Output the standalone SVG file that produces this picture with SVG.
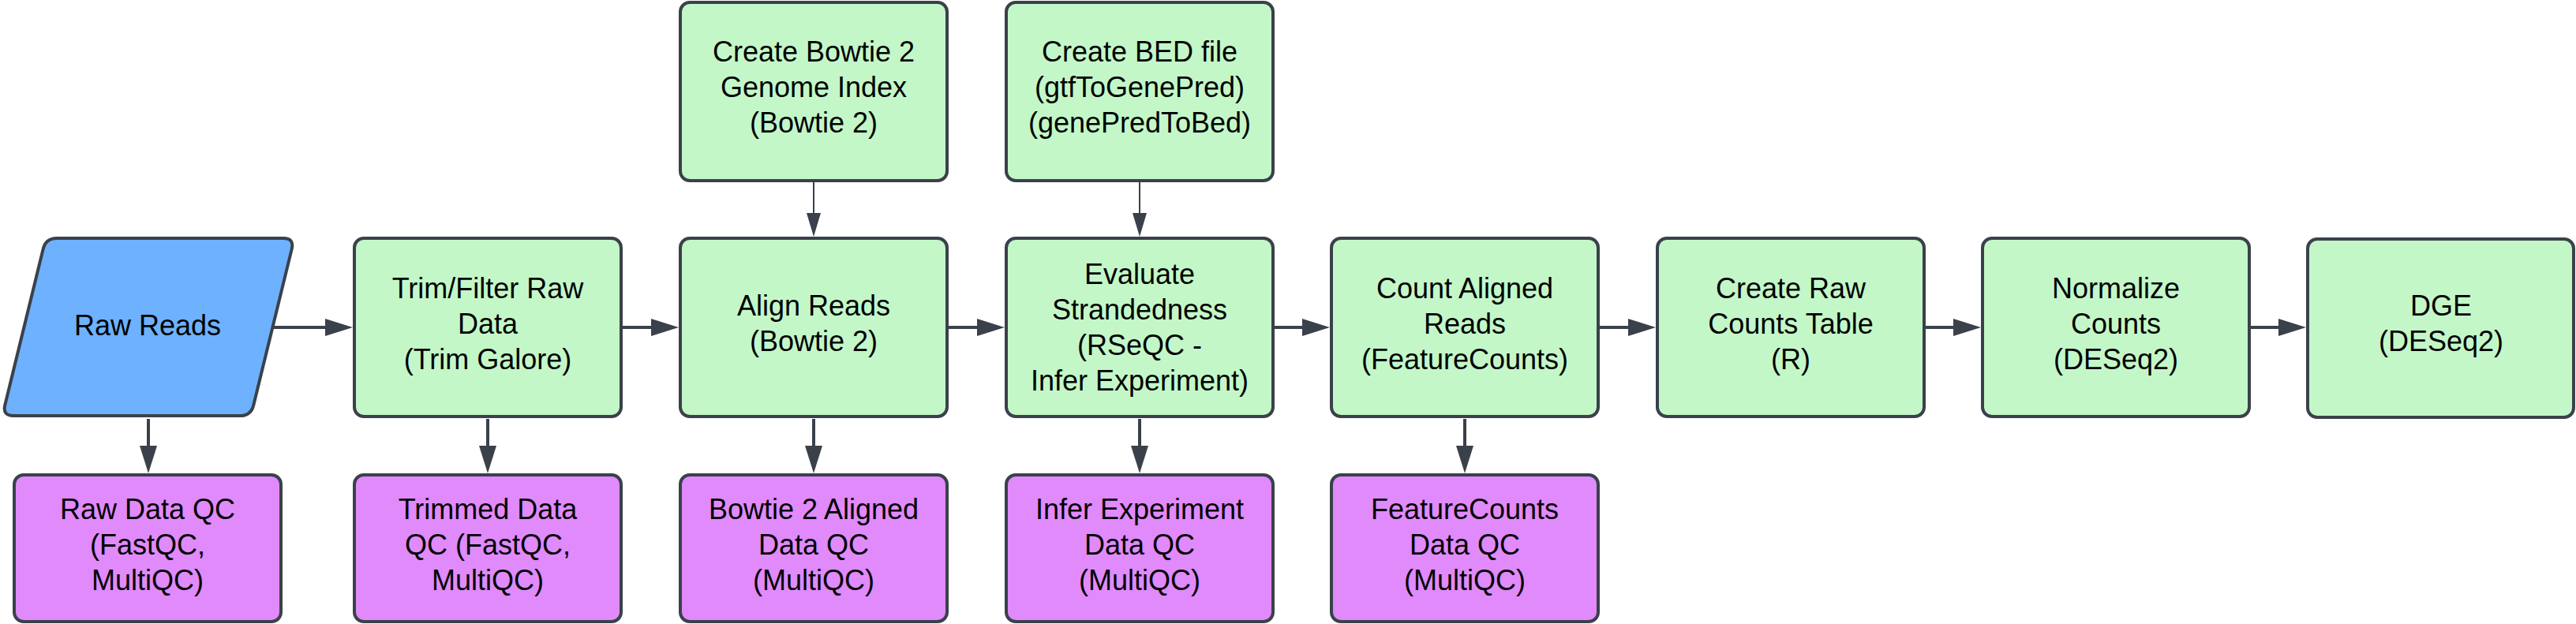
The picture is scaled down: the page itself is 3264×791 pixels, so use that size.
<svg xmlns="http://www.w3.org/2000/svg" width="3264" height="791" viewBox="0 0 3264 791">
<style>
.box{stroke:#3a414a;stroke-width:4}
.g{fill:#c3f7c8}
.p{fill:#e08afc}
.b{fill:#6db1ff}
.t{font-family:"Liberation Sans",Arial,sans-serif;font-size:36px;fill:#000;text-anchor:middle}
.c{stroke:#3a414a;stroke-width:4;fill:none}
.ct{stroke:#3a414a;stroke-width:2;fill:none}
</style>
<defs>
<marker id="ah" viewBox="0 0 35 22" refX="5" refY="11" markerWidth="35" markerHeight="22" markerUnits="userSpaceOnUse" orient="auto">
<path d="M0,0 L35,11 L0,22 Z" fill="#3a414a"/>
</marker>
<marker id="ahs" viewBox="0 0 30 18" refX="4" refY="9" markerWidth="30" markerHeight="18" markerUnits="userSpaceOnUse" orient="auto">
<path d="M0,0 L30,9 L0,18 Z" fill="#3a414a"/>
</marker>
</defs>
<rect width="3264" height="791" fill="#ffffff"/>
<g id="connectors">
<line class="c" x1="346" y1="415" x2="417" y2="415" marker-end="url(#ah)"/>
<line class="c" x1="789" y1="415" x2="830" y2="415" marker-end="url(#ah)"/>
<line class="c" x1="1202" y1="415" x2="1243" y2="415" marker-end="url(#ah)"/>
<line class="c" x1="1615" y1="415" x2="1655" y2="415" marker-end="url(#ah)"/>
<line class="c" x1="2027" y1="415" x2="2068" y2="415" marker-end="url(#ah)"/>
<line class="c" x1="2440" y1="415" x2="2480" y2="415" marker-end="url(#ah)"/>
<line class="c" x1="2852" y1="415" x2="2892" y2="415" marker-end="url(#ah)"/>
<line class="c" x1="188" y1="531" x2="188" y2="570" marker-end="url(#ah)"/>
<line class="c" x1="618" y1="531" x2="618" y2="570" marker-end="url(#ah)"/>
<line class="c" x1="1031" y1="531" x2="1031" y2="570" marker-end="url(#ah)"/>
<line class="c" x1="1444" y1="531" x2="1444" y2="570" marker-end="url(#ah)"/>
<line class="c" x1="1856" y1="531" x2="1856" y2="570" marker-end="url(#ah)"/>
<line class="ct" x1="1031" y1="231" x2="1031" y2="274" marker-end="url(#ahs)"/>
<line class="ct" x1="1444" y1="231" x2="1444" y2="274" marker-end="url(#ahs)"/>
</g>
<g id="raw-reads">
<path class="box b" d="M72,302 L359,302 Q373,302 369.7,315.6 L321.3,513.4 Q318,527 304,527 L17,527 Q3,527 6.3,513.4 L54.7,315.6 Q58,302 72,302 Z"/>
<text class="t" x="187" y="425">Raw Reads</text>
</g>
<g id="trim">
<rect class="box g" x="449" y="302" width="338" height="226" rx="12"/>
<text class="t" x="618" y="378">Trim/Filter Raw</text>
<text class="t" x="618" y="423">Data</text>
<text class="t" x="618" y="468">(Trim Galore)</text>
</g>
<g id="align">
<rect class="box g" x="862" y="302" width="338" height="226" rx="12"/>
<text class="t" x="1031" y="400">Align Reads</text>
<text class="t" x="1031" y="445">(Bowtie 2)</text>
</g>
<g id="strandedness">
<rect class="box g" x="1275" y="302" width="338" height="226" rx="12"/>
<text class="t" x="1444" y="360">Evaluate</text>
<text class="t" x="1444" y="405">Strandedness</text>
<text class="t" x="1444" y="450">(RSeQC -</text>
<text class="t" x="1444" y="495">Infer Experiment)</text>
</g>
<g id="count">
<rect class="box g" x="1687" y="302" width="338" height="226" rx="12"/>
<text class="t" x="1856" y="378">Count Aligned</text>
<text class="t" x="1856" y="423">Reads</text>
<text class="t" x="1856" y="468">(FeatureCounts)</text>
</g>
<g id="raw-counts">
<rect class="box g" x="2100" y="302" width="338" height="226" rx="12"/>
<text class="t" x="2269" y="378">Create Raw</text>
<text class="t" x="2269" y="423">Counts Table</text>
<text class="t" x="2269" y="468">(R)</text>
</g>
<g id="normalize">
<rect class="box g" x="2512" y="302" width="338" height="226" rx="12"/>
<text class="t" x="2681" y="378">Normalize</text>
<text class="t" x="2681" y="423">Counts</text>
<text class="t" x="2681" y="468">(DESeq2)</text>
</g>
<g id="dge">
<rect class="box g" x="2924" y="303" width="337" height="226" rx="12"/>
<text class="t" x="3093" y="400">DGE</text>
<text class="t" x="3093" y="445">(DESeq2)</text>
</g>
<g id="bowtie-index">
<rect class="box g" x="862" y="3" width="338" height="226" rx="12"/>
<text class="t" x="1031" y="78">Create Bowtie 2</text>
<text class="t" x="1031" y="123">Genome Index</text>
<text class="t" x="1031" y="168">(Bowtie 2)</text>
</g>
<g id="bed-file">
<rect class="box g" x="1275" y="3" width="338" height="226" rx="12"/>
<text class="t" x="1444" y="78">Create BED file</text>
<text class="t" x="1444" y="123">(gtfToGenePred)</text>
<text class="t" x="1444" y="168">(genePredToBed)</text>
</g>
<g id="raw-qc">
<rect class="box p" x="18" y="602" width="338" height="186" rx="12"/>
<text class="t" x="187" y="658">Raw Data QC</text>
<text class="t" x="187" y="703">(FastQC,</text>
<text class="t" x="187" y="748">MultiQC)</text>
</g>
<g id="trimmed-qc">
<rect class="box p" x="449" y="602" width="338" height="186" rx="12"/>
<text class="t" x="618" y="658">Trimmed Data</text>
<text class="t" x="618" y="703">QC (FastQC,</text>
<text class="t" x="618" y="748">MultiQC)</text>
</g>
<g id="aligned-qc">
<rect class="box p" x="862" y="602" width="338" height="186" rx="12"/>
<text class="t" x="1031" y="658">Bowtie 2 Aligned</text>
<text class="t" x="1031" y="703">Data QC</text>
<text class="t" x="1031" y="748">(MultiQC)</text>
</g>
<g id="infer-qc">
<rect class="box p" x="1275" y="602" width="338" height="186" rx="12"/>
<text class="t" x="1444" y="658">Infer Experiment</text>
<text class="t" x="1444" y="703">Data QC</text>
<text class="t" x="1444" y="748">(MultiQC)</text>
</g>
<g id="featurecounts-qc">
<rect class="box p" x="1687" y="602" width="338" height="186" rx="12"/>
<text class="t" x="1856" y="658">FeatureCounts</text>
<text class="t" x="1856" y="703">Data QC</text>
<text class="t" x="1856" y="748">(MultiQC)</text>
</g>
</svg>
